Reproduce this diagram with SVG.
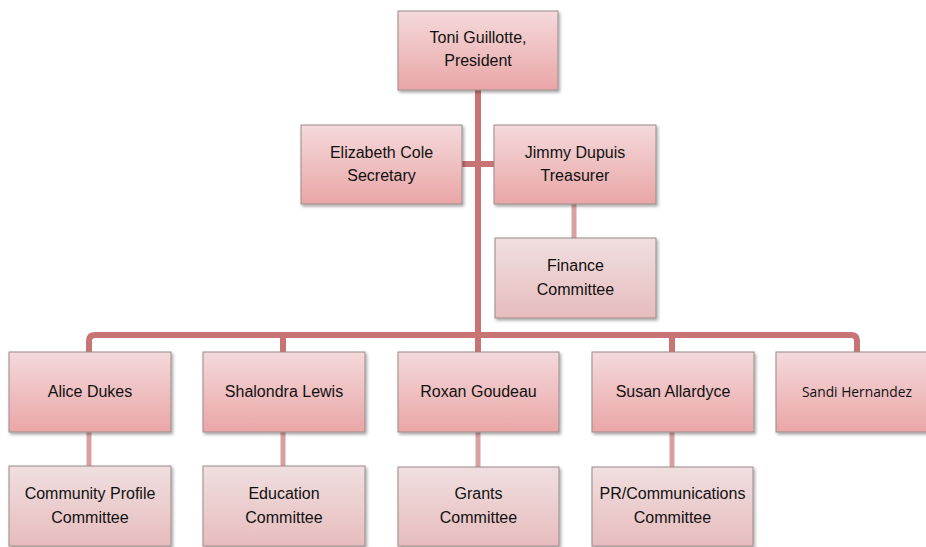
<svg xmlns="http://www.w3.org/2000/svg" width="926" height="547" viewBox="0 0 926 547">
<defs>
<linearGradient id="gMain" x1="0" y1="0" x2="0" y2="1">
<stop offset="0" stop-color="#f4d9db"/>
<stop offset="1" stop-color="#eaa6a7"/>
</linearGradient>
<linearGradient id="gCom" x1="0" y1="0" x2="0" y2="1">
<stop offset="0" stop-color="#f0dfe0"/>
<stop offset="1" stop-color="#e7bcbd"/>
</linearGradient>
<filter id="sh" x="-10%" y="-10%" width="125%" height="130%">
<feDropShadow dx="1.5" dy="2" stdDeviation="1.8" flood-color="#000" flood-opacity="0.35"/>
</filter>
</defs>
<style>
.main{fill:url(#gMain);stroke:#9a8a8a;stroke-width:1;filter:url(#sh)}
.com{fill:url(#gCom);stroke:#9a8a8a;stroke-width:1;filter:url(#sh)}
text{font-family:"Liberation Sans",Arial,sans-serif;font-size:16px;fill:#111;text-anchor:middle}
.cal{font-family:"Open Sans","Noto Sans",sans-serif;font-size:13.8px}
.dk{fill:none;stroke:#c87475;stroke-width:6}
.lt{fill:none;stroke:#d9a0a2;stroke-width:5}
</style>
<rect width="926" height="547" fill="#fff"/>
<g id="connectors">
<path class="dk" d="M478,90 V352"/>
<path class="dk" d="M462,164 H494"/>
<path class="dk" d="M89,352 V341 Q89,335 95,335 H851 Q857,335 857,341 V352"/>
<path class="dk" d="M283,335 V352 M672,335 V352"/>
<path class="lt" d="M574,204 V238"/>
<path class="lt" d="M89,432 V466 M283,432 V466 M478,432 V467 M672,432 V467"/>
</g>
<g id="president"><rect class="main" x="398" y="11" width="160" height="79"/><text x="478" y="43">Toni Guillotte,</text><text x="478" y="66">President</text></g>
<g id="secretary"><rect class="main" x="301" y="125" width="161" height="79"/><text x="381.5" y="158">Elizabeth Cole</text><text x="381.5" y="181">Secretary</text></g>
<g id="treasurer"><rect class="main" x="494" y="125" width="162" height="79"/><text x="575" y="158">Jimmy Dupuis</text><text x="575" y="181">Treasurer</text></g>
<g id="finance"><rect class="com" x="495" y="238" width="161" height="80"/><text x="575.5" y="271">Finance</text><text x="575.5" y="295">Committee</text></g>
<g id="alice"><rect class="main" x="9" y="352" width="162" height="80"/><text x="90" y="397">Alice Dukes</text></g>
<g id="shalondra"><rect class="main" x="203" y="352" width="162" height="80"/><text x="284" y="397">Shalondra Lewis</text></g>
<g id="roxan"><rect class="main" x="398" y="352" width="161" height="80"/><text x="478.5" y="397">Roxan Goudeau</text></g>
<g id="susan"><rect class="main" x="592" y="352" width="162" height="80"/><text x="673" y="397">Susan Allardyce</text></g>
<g id="sandi"><rect class="main" x="776" y="352" width="162" height="80"/><text class="cal" x="857" y="397">Sandi Hernandez</text></g>
<g id="community"><rect class="com" x="9" y="466" width="162" height="80"/><text x="90" y="499">Community Profile</text><text x="90" y="523">Committee</text></g>
<g id="education"><rect class="com" x="203" y="466" width="162" height="80"/><text x="284" y="499">Education</text><text x="284" y="523">Committee</text></g>
<g id="grants"><rect class="com" x="398" y="467" width="161" height="79"/><text x="478.5" y="499">Grants</text><text x="478.5" y="523">Committee</text></g>
<g id="pr"><rect class="com" x="592" y="467" width="161" height="79"/><text x="672.5" y="499">PR/Communications</text><text x="672.5" y="523">Committee</text></g>
</svg>
